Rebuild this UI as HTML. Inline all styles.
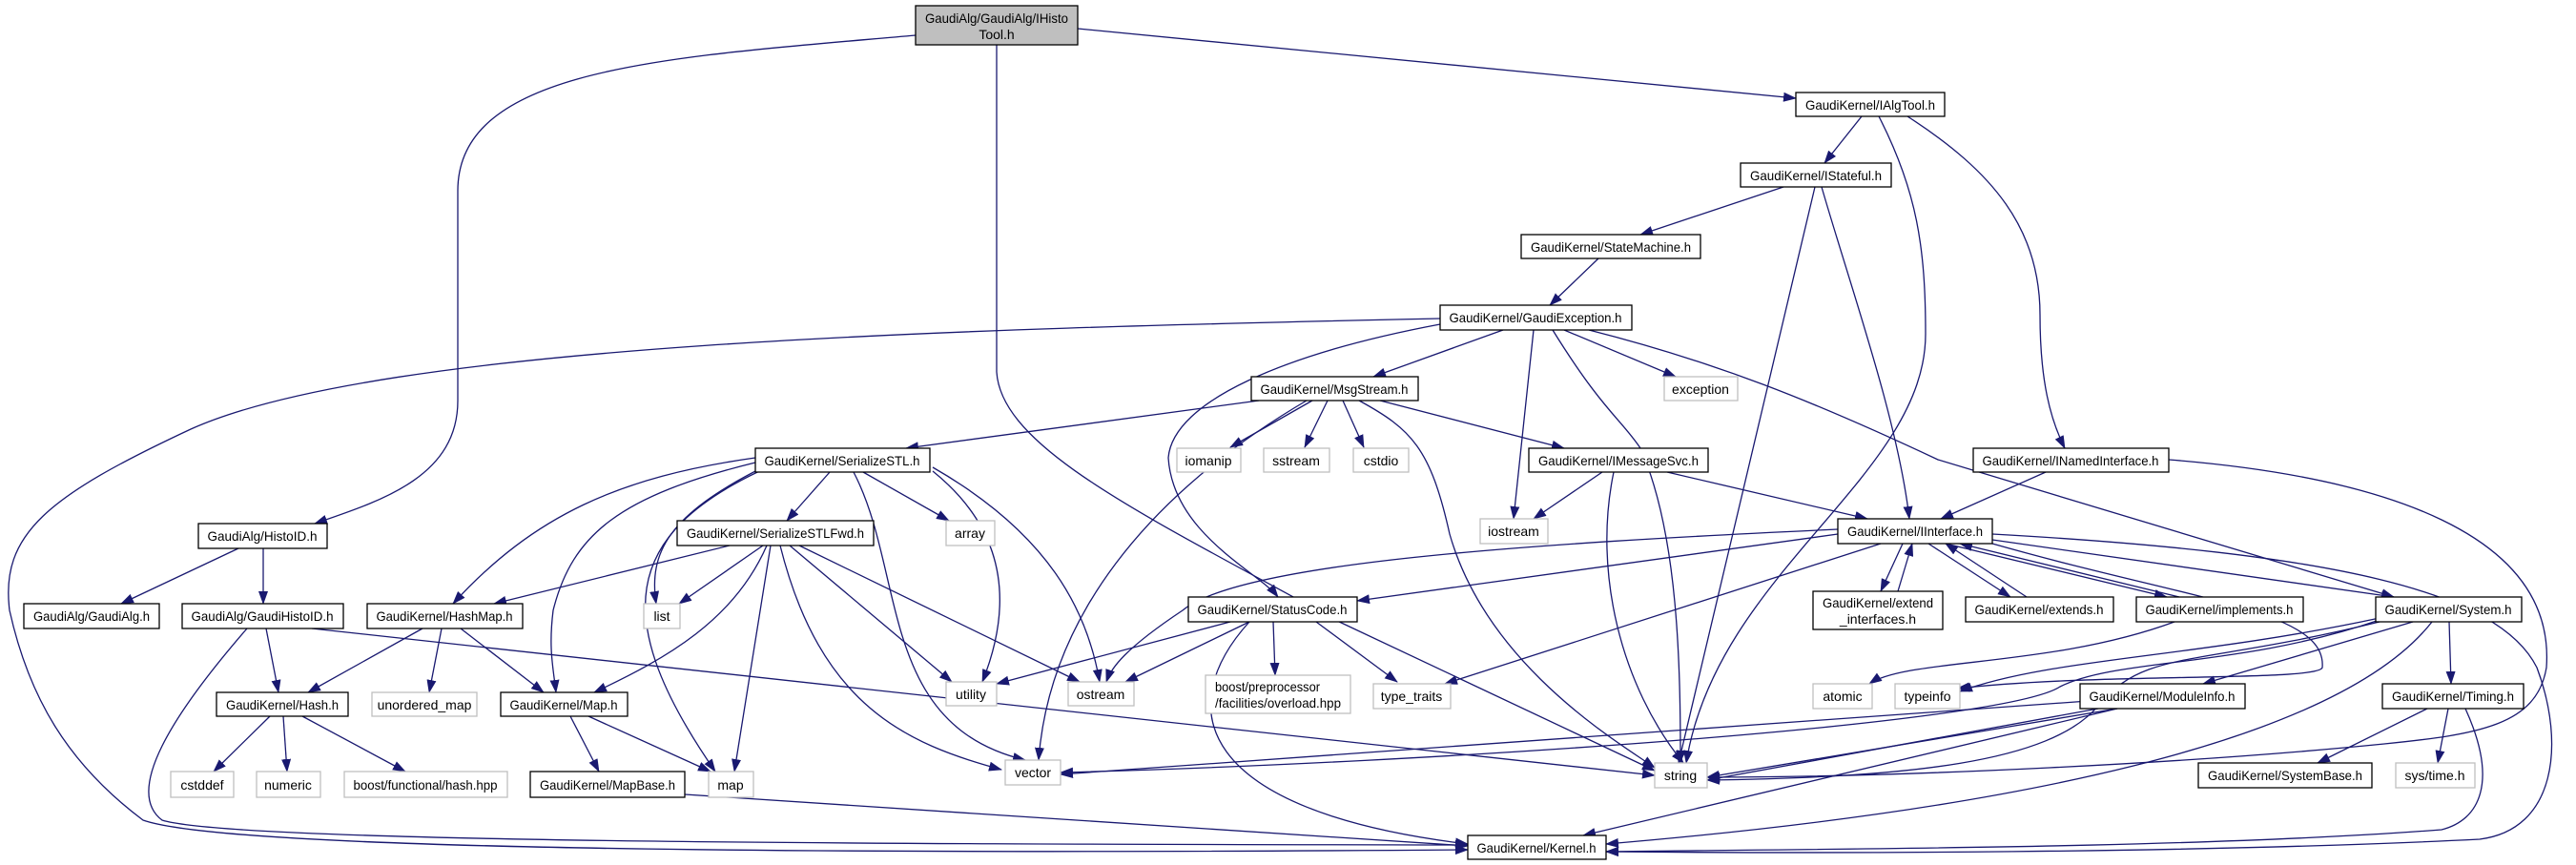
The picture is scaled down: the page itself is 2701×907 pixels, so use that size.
<!DOCTYPE html>
<html><head><meta charset="utf-8"><style>
html,body{margin:0;padding:0;background:#fff;}
svg{display:block;}
text{font-family:"Liberation Sans",sans-serif;font-size:14px;fill:#000;}
.n{fill:#fff;stroke:#000;stroke-width:1.3;}
.g{fill:#fff;stroke:#bfbfbf;stroke-width:1.3;}
.e{fill:none;stroke:#191970;stroke-width:1.3;}
</style></head><body>
<svg width="2701" height="907" viewBox="0 0 2701 907" xmlns="http://www.w3.org/2000/svg">
<defs><marker id="a" markerUnits="userSpaceOnUse" markerWidth="14" markerHeight="10" refX="13" refY="5" orient="auto"><path d="M0,0 L14,5 L0,10 Z" fill="#191970"/></marker></defs>
<g class="e" marker-end="url(#a)">
<path d="M960,37 C700,60 480,70 480,200 L480,420 C480,500 400,525 330,549"/>
<path d="M1045,47 L1045,390 C1050,470 1200,540 1400,650 L1735,808"/>
<path d="M1130,30 L1883,103"/>
<path d="M1952,122 L1913,171"/>
<path d="M1970,122 C2010,200 2019,260 2019,350 C2019,500 1800,600 1768,800"/>
<path d="M2000,122 C2090,180 2139,240 2139,330 C2139,400 2150,440 2165,470"/>
<path d="M1870,196 L1720,246"/>
<path d="M1903,196 L1760,800"/>
<path d="M1910,196 C1940,300 1990,440 2002,544"/>
<path d="M1676,271 L1625,320"/>
<path d="M1510,334 C1000,345 400,360 200,450 C50,520 0,560 10,640 C30,730 70,800 150,860 C250,895 1000,895 1539,891"/>
<path d="M1576,346 L1440,395"/>
<path d="M1510,340 C1350,370 1230,420 1225,480 C1230,560 1320,600 1340,626"/>
<path d="M1608,346 L1587,544"/>
<path d="M1628,346 C1680,430 1700,440 1720,470 C1760,560 1762,700 1762,800"/>
<path d="M1640,346 L1757,395"/>
<path d="M1666,346 C1800,380 1900,420 2032,482 L2510,626"/>
<path d="M1320,420 L950,470"/>
<path d="M1376,420 L1290,469"/>
<path d="M1392,420 L1368,469"/>
<path d="M1408,420 L1430,469"/>
<path d="M1370,420 C1200,520 1100,650 1089,797"/>
<path d="M1425,420 C1480,450 1500,470 1520,560 C1560,700 1700,780 1735,805"/>
<path d="M1447,420 L1640,470"/>
<path d="M1680,495 L1608,544"/>
<path d="M1692,495 C1670,600 1700,720 1765,800"/>
<path d="M1748,495 L1958,544"/>
<path d="M2145,495 L2035,544"/>
<path d="M2274,482 C2500,500 2680,560 2670,700 C2660,760 2600,770 2500,780 C2300,800 2000,815 1790,815"/>
<path d="M1927,555 C1600,570 1300,590 1240,640 C1180,680 1165,700 1160,715"/>
<path d="M1927,560 L1423,630"/>
<path d="M1972,570 L1515,717"/>
<path d="M1995,570 L1972,620"/>
<path d="M1990,620 L2005,570"/>
<path d="M2022,570 L2108,626"/>
<path d="M2125,626 L2040,570"/>
<path d="M2040,570 L2272,626"/>
<path d="M2285,626 L2055,570"/>
<path d="M2089,566 L2510,626"/>
<path d="M2089,570 C2300,630 2440,640 2435,700 C2430,715 2200,705 2052,722"/>
<path d="M2089,560 C2450,580 2620,620 2660,700 C2690,780 2680,870 2600,880 C2300,895 1900,895 1684,893"/>
<path d="M1290,652 L1045,717"/>
<path d="M1310,652 L1180,715"/>
<path d="M1335,652 L1337,708"/>
<path d="M1380,652 L1465,715"/>
<path d="M1310,652 C1230,740 1250,850 1539,885"/>
<path d="M2280,652 C2150,700 2000,690 1960,717"/>
<path d="M2495,648 C2300,690 2150,690 2055,725"/>
<path d="M2495,652 C2300,700 2250,680 2200,740 C2150,800 2000,815 1790,818"/>
<path d="M2495,650 C2350,700 2220,690 2160,720 C2100,760 1500,800 1112,810"/>
<path d="M2530,652 L2310,717"/>
<path d="M2568,652 L2570,717"/>
<path d="M2550,652 C2450,780 2100,850 1684,885"/>
<path d="M2220,743 L1790,815"/>
<path d="M2200,743 L1790,818"/>
<path d="M2190,735 L1112,812"/>
<path d="M2220,743 L1660,876"/>
<path d="M2545,743 L2430,800"/>
<path d="M2567,743 L2556,800"/>
<path d="M2585,743 C2620,820 2600,860 2560,870 C2300,890 1900,890 1684,893"/>
<path d="M870,495 L825,546"/>
<path d="M905,495 L995,546"/>
<path d="M792,480 C650,500 560,540 475,633"/>
<path d="M792,485 C650,520 600,560 580,640 C575,680 580,700 583,726"/>
<path d="M800,490 C700,540 680,580 688,633"/>
<path d="M805,490 C650,560 640,650 750,809"/>
<path d="M895,495 C950,600 920,760 1075,797"/>
<path d="M978,494 C1060,560 1060,640 1030,715"/>
<path d="M978,490 C1100,560 1140,640 1153,715"/>
<path d="M765,572 L518,633"/>
<path d="M800,572 L712,633"/>
<path d="M804,572 C770,650 700,690 623,726"/>
<path d="M808,572 L770,809"/>
<path d="M818,572 C860,740 950,780 1050,807"/>
<path d="M828,572 L998,715"/>
<path d="M838,572 L1132,715"/>
<path d="M250,575 L127,633"/>
<path d="M276,575 L276,633"/>
<path d="M279,659 L292,726"/>
<path d="M327,659 L1735,813"/>
<path d="M259,659 C180,750 130,830 170,860 C250,885 1000,885 1539,886"/>
<path d="M443,659 L323,726"/>
<path d="M463,659 L450,726"/>
<path d="M483,659 L570,726"/>
<path d="M283,751 L224,809"/>
<path d="M297,751 L301,809"/>
<path d="M317,751 L425,809"/>
<path d="M598,751 L628,809"/>
<path d="M617,751 L745,809"/>
<path d="M718,833 L1539,887"/>
</g>
<g>
<rect x="960" y="6" width="170" height="41" fill="#bfbfbf" stroke="#000" stroke-width="1.3"/>
<text x="1045" y="24" text-anchor="middle" textLength="150" lengthAdjust="spacingAndGlyphs">GaudiAlg/GaudiAlg/IHisto</text>
<text x="1045" y="41" text-anchor="middle">Tool.h</text>

<rect class="n" x="1883" y="97" width="156" height="25"/><text x="1961" y="115" text-anchor="middle" textLength="136" lengthAdjust="spacingAndGlyphs">GaudiKernel/IAlgTool.h</text>
<rect class="n" x="1825" y="171" width="158" height="25"/><text x="1904" y="189" text-anchor="middle" textLength="138" lengthAdjust="spacingAndGlyphs">GaudiKernel/IStateful.h</text>
<rect class="n" x="1595" y="246" width="188" height="25"/><text x="1689" y="264" text-anchor="middle" textLength="168" lengthAdjust="spacingAndGlyphs">GaudiKernel/StateMachine.h</text>
<rect class="n" x="1510" y="320" width="201" height="26"/><text x="1610" y="338" text-anchor="middle" textLength="181" lengthAdjust="spacingAndGlyphs">GaudiKernel/GaudiException.h</text>
<rect class="n" x="1312" y="395" width="175" height="25"/><text x="1399" y="413" text-anchor="middle" textLength="155" lengthAdjust="spacingAndGlyphs">GaudiKernel/MsgStream.h</text>
<rect class="g" x="1745" y="395" width="77" height="25"/><text x="1783" y="413" text-anchor="middle">exception</text>
<rect class="n" x="792" y="470" width="183" height="25"/><text x="883" y="488" text-anchor="middle" textLength="163" lengthAdjust="spacingAndGlyphs">GaudiKernel/SerializeSTL.h</text>
<rect class="g" x="1234" y="470" width="67" height="25"/><text x="1267" y="488" text-anchor="middle">iomanip</text>
<rect class="g" x="1325" y="470" width="69" height="25"/><text x="1359" y="488" text-anchor="middle">sstream</text>
<rect class="g" x="1419" y="470" width="58" height="25"/><text x="1448" y="488" text-anchor="middle">cstdio</text>
<rect class="n" x="1603" y="470" width="188" height="25"/><text x="1697" y="488" text-anchor="middle" textLength="168" lengthAdjust="spacingAndGlyphs">GaudiKernel/IMessageSvc.h</text>
<rect class="n" x="2069" y="470" width="205" height="25"/><text x="2171" y="488" text-anchor="middle" textLength="185" lengthAdjust="spacingAndGlyphs">GaudiKernel/INamedInterface.h</text>
<rect class="n" x="208" y="549" width="135" height="26"/><text x="275" y="567" text-anchor="middle" textLength="115" lengthAdjust="spacingAndGlyphs">GaudiAlg/HistoID.h</text>
<rect class="n" x="710" y="546" width="206" height="26"/><text x="813" y="564" text-anchor="middle" textLength="186" lengthAdjust="spacingAndGlyphs">GaudiKernel/SerializeSTLFwd.h</text>
<rect class="g" x="992" y="546" width="51" height="26"/><text x="1017" y="564" text-anchor="middle">array</text>
<rect class="g" x="1552" y="544" width="71" height="26"/><text x="1587" y="562" text-anchor="middle">iostream</text>
<rect class="n" x="1927" y="544" width="162" height="26"/><text x="2008" y="562" text-anchor="middle" textLength="142" lengthAdjust="spacingAndGlyphs">GaudiKernel/IInterface.h</text>
<rect class="n" x="25" y="633" width="142" height="26"/><text x="96" y="651" text-anchor="middle" textLength="122" lengthAdjust="spacingAndGlyphs">GaudiAlg/GaudiAlg.h</text>
<rect class="n" x="191" y="633" width="169" height="26"/><text x="275" y="651" text-anchor="middle" textLength="149" lengthAdjust="spacingAndGlyphs">GaudiAlg/GaudiHistoID.h</text>
<rect class="n" x="385" y="633" width="163" height="26"/><text x="466" y="651" text-anchor="middle" textLength="143" lengthAdjust="spacingAndGlyphs">GaudiKernel/HashMap.h</text>
<rect class="g" x="675" y="633" width="38" height="26"/><text x="694" y="651" text-anchor="middle">list</text>
<rect class="n" x="1246" y="626" width="177" height="26"/><text x="1334" y="644" text-anchor="middle" textLength="157" lengthAdjust="spacingAndGlyphs">GaudiKernel/StatusCode.h</text>
<rect class="n" x="1901" y="620" width="136" height="40"/><text x="1969" y="637" text-anchor="middle" textLength="116" lengthAdjust="spacingAndGlyphs">GaudiKernel/extend</text><text x="1969" y="654" text-anchor="middle">_interfaces.h</text>
<rect class="n" x="2061" y="626" width="155" height="26"/><text x="2138" y="644" text-anchor="middle" textLength="135" lengthAdjust="spacingAndGlyphs">GaudiKernel/extends.h</text>
<rect class="n" x="2240" y="626" width="175" height="26"/><text x="2327" y="644" text-anchor="middle" textLength="155" lengthAdjust="spacingAndGlyphs">GaudiKernel/implements.h</text>
<rect class="n" x="2491" y="626" width="153" height="26"/><text x="2567" y="644" text-anchor="middle" textLength="133" lengthAdjust="spacingAndGlyphs">GaudiKernel/System.h</text>
<rect class="n" x="227" y="726" width="138" height="25"/><text x="296" y="744" text-anchor="middle" textLength="118" lengthAdjust="spacingAndGlyphs">GaudiKernel/Hash.h</text>
<rect class="g" x="390" y="726" width="110" height="25"/><text x="445" y="744" text-anchor="middle">unordered_map</text>
<rect class="n" x="525" y="726" width="133" height="25"/><text x="591" y="744" text-anchor="middle" textLength="113" lengthAdjust="spacingAndGlyphs">GaudiKernel/Map.h</text>
<rect class="g" x="992" y="715" width="53" height="25"/><text x="1018" y="733" text-anchor="middle">utility</text>
<rect class="g" x="1120" y="715" width="69" height="25"/><text x="1154" y="733" text-anchor="middle">ostream</text>
<rect class="g" x="1264" y="708" width="152" height="40"/><text x="1274" y="725" textLength="110" lengthAdjust="spacingAndGlyphs">boost/preprocessor</text><text x="1274" y="742" textLength="132" lengthAdjust="spacingAndGlyphs">/facilities/overload.hpp</text>
<rect class="g" x="1440" y="717" width="81" height="26"/><text x="1480" y="735" text-anchor="middle">type_traits</text>
<rect class="g" x="1901" y="717" width="62" height="26"/><text x="1932" y="735" text-anchor="middle">atomic</text>
<rect class="g" x="1987" y="717" width="68" height="26"/><text x="2021" y="735" text-anchor="middle">typeinfo</text>
<rect class="n" x="2181" y="717" width="173" height="26"/><text x="2267" y="735" text-anchor="middle" textLength="153" lengthAdjust="spacingAndGlyphs">GaudiKernel/ModuleInfo.h</text>
<rect class="n" x="2498" y="717" width="148" height="26"/><text x="2572" y="735" text-anchor="middle" textLength="128" lengthAdjust="spacingAndGlyphs">GaudiKernel/Timing.h</text>
<rect class="g" x="179" y="809" width="66" height="27"/><text x="212" y="828" text-anchor="middle">cstddef</text>
<rect class="g" x="269" y="809" width="67" height="27"/><text x="302" y="828" text-anchor="middle">numeric</text>
<rect class="g" x="361" y="809" width="171" height="27"/><text x="446" y="828" text-anchor="middle" textLength="151" lengthAdjust="spacingAndGlyphs">boost/functional/hash.hpp</text>
<rect class="n" x="556" y="809" width="162" height="27"/><text x="637" y="828" text-anchor="middle" textLength="142" lengthAdjust="spacingAndGlyphs">GaudiKernel/MapBase.h</text>
<rect class="g" x="743" y="809" width="47" height="27"/><text x="766" y="828" text-anchor="middle">map</text>
<rect class="g" x="1054" y="797" width="58" height="26"/><text x="1083" y="815" text-anchor="middle">vector</text>
<rect class="g" x="1735" y="800" width="55" height="26"/><text x="1762" y="818" text-anchor="middle">string</text>
<rect class="n" x="2305" y="800" width="182" height="26"/><text x="2396" y="818" text-anchor="middle" textLength="162" lengthAdjust="spacingAndGlyphs">GaudiKernel/SystemBase.h</text>
<rect class="g" x="2512" y="800" width="83" height="26"/><text x="2553" y="818" text-anchor="middle">sys/time.h</text>
<rect class="n" x="1539" y="876" width="145" height="25"/><text x="1611" y="894" text-anchor="middle" textLength="125" lengthAdjust="spacingAndGlyphs">GaudiKernel/Kernel.h</text>
</g>
</svg>
</body></html>
